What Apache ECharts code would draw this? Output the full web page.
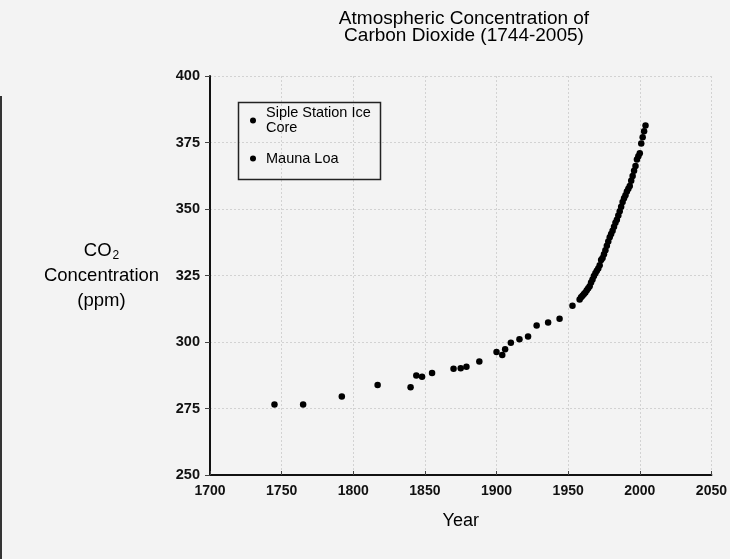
<!DOCTYPE html>
<html>
<head>
<meta charset="utf-8">
<script src="https://cdn.jsdelivr.net/npm/echarts@6/dist/echarts.min.js"></script>
<style>
html,body{margin:0;padding:0;background:#f3f3f3;}
#chart{width:730px;height:559px;}
</style>
</head>
<body>
<div id="chart"></div>
<script>
// ---- data ----
var titleLines = ['Atmospheric Concentration of', 'Carbon Dioxide (1744-2005)'];
var xTicks = [1700, 1750, 1800, 1850, 1900, 1950, 2000, 2050];
var yTicks = [250, 275, 300, 325, 350, 375, 400];
var seriesNames = ['Siple Station Ice\nCore', 'Mauna Loa'];

var sipleYears = [1745, 1765, 1792, 1817, 1840, 1844, 1848, 1855, 1870, 1875, 1879, 1888, 1900, 1904, 1906, 1910, 1916, 1922, 1928, 1936, 1944, 1953];
var sipleCO2   = [276.5, 276.5, 279.5, 283.8, 283.0, 287.4, 286.9, 288.3, 289.9, 290.1, 290.7, 292.7, 296.2, 295.1, 297.3, 299.7, 301.0, 302.1, 306.2, 307.3, 308.7, 313.6];

var maunaYears = [1958, 1959, 1960, 1961, 1962, 1963, 1964, 1965, 1966, 1967, 1968, 1969, 1970, 1971, 1972, 1973, 1974, 1975, 1976, 1977, 1978, 1979, 1980, 1981,
                  1982, 1983, 1984, 1985, 1986, 1987, 1988, 1989, 1990, 1991, 1992, 1993, 1994, 1995, 1996, 1997, 1998, 1999, 2000, 2001, 2002, 2003, 2004];
var maunaCO2   = [316.0, 316.8, 317.4, 318.0, 318.6, 319.5, 320.2, 321.0, 322.4, 323.5, 324.8, 325.8, 326.8, 327.6, 328.9, 330.8, 331.6, 333.0, 334.5, 336.2, 337.8, 339.4, 340.6, 341.8,
                  343.3, 344.8, 346.0, 347.6, 349.2, 350.8, 352.6, 354.0, 355.2, 356.6, 357.6, 358.6, 360.6, 362.4, 364.4, 366.2, 368.6, 369.8, 371.0, 374.6, 377.0, 379.2, 381.4];

function pairs(xs, ys) { return xs.map(function (x, i) { return [x, ys[i]]; }); }

var FONT = '"Liberation Sans", Arial, Helvetica, sans-serif';
var chart = echarts.init(document.getElementById('chart'), null, {renderer: 'canvas'});

var option = {
  backgroundColor: '#f3f3f3',
  animation: false,
  textStyle: {fontFamily: FONT, color: '#111'},
  title: {
    text: titleLines.join('\n'),
    left: 459,
    top: 5,
    textAlign: 'center',
    textStyle: {fontFamily: FONT, fontSize: 19, fontWeight: 'normal', color: '#000', lineHeight: 17.5}
  },
  grid: {left: 210, right: 16, top: 76, bottom: 84, containLabel: false},
  legend: {
    orient: 'vertical',
    left: 250,
    top: 98,
    padding: 0,
    itemGap: 8,
    itemWidth: 6,
    itemHeight: 6,
    icon: 'circle',
    textStyle: {fontFamily: FONT, fontSize: 14.5, color: '#000', lineHeight: 15, padding: [0, 0, 0, 5]},
    data: [
      {name: seriesNames[0], textStyle: {padding: [15, 0, 0, 5]}},
      {name: seriesNames[1]}
    ]
  },
  xAxis: {
    type: 'value',
    min: xTicks[0],
    max: xTicks[xTicks.length - 1],
    interval: 50,
    name: 'Year',
    nameLocation: 'middle',
    nameGap: 37,
    nameTextStyle: {fontFamily: FONT, fontSize: 18, color: '#000'},
    axisLine: {show: true, lineStyle: {color: '#111', width: 2}},
    axisTick: {show: true, inside: true, length: 4, lineStyle: {color: '#444'}},
    axisLabel: {margin: 9, fontFamily: FONT, fontSize: 14, fontWeight: 'bold', color: '#111',
      formatter: function (v) { return String(v); }},
    splitLine: {show: true, lineStyle: {color: '#d2d2d2', width: 1, type: [2, 2]}}
  },
  yAxis: {
    type: 'value',
    min: yTicks[0],
    max: yTicks[yTicks.length - 1],
    interval: 25,
    name: '{co|CO}{sub|2}\n{b|Concentration}\n{b|(ppm)}',
    nameLocation: 'middle',
    nameRotate: 0,
    nameGap: 108.5,
    nameTextStyle: {
      align: 'center',
      fontFamily: FONT, fontSize: 18.5, color: '#000',
      rich: {
        co: {fontFamily: FONT, fontSize: 18.5, color: '#000', lineHeight: 25},
        sub: {fontFamily: FONT, fontSize: 12, color: '#000', lineHeight: 25, padding: [11, 0, 0, 1]},
        b: {fontFamily: FONT, fontSize: 18.5, color: '#000', lineHeight: 25}
      }
    },
    axisLine: {show: true, lineStyle: {color: '#111', width: 2}},
    axisTick: {show: true, inside: false, length: 5, lineStyle: {color: '#444'}},
    axisLabel: {margin: 10, fontFamily: FONT, fontSize: 14.5, fontWeight: 'bold', color: '#111'},
    splitLine: {show: true, lineStyle: {color: '#d2d2d2', width: 1, type: [2, 2]}}
  },
  graphic: [
    {type: 'rect', left: 236, top: 100, shape: {width: 142, height: 77},
     style: {fill: null, stroke: '#222', lineWidth: 1.5}, silent: true, z: 10},
    {type: 'rect', left: 0, top: 96, shape: {width: 2, height: 463},
     style: {fill: '#333'}, silent: true}
  ],
  series: [
    {name: seriesNames[0], type: 'scatter', data: pairs(sipleYears, sipleCO2),
     symbol: 'circle', symbolSize: 6.5, itemStyle: {color: '#000', opacity: 1}},
    {name: seriesNames[1], type: 'scatter', data: pairs(maunaYears, maunaCO2),
     symbol: 'circle', symbolSize: 6.5, itemStyle: {color: '#000', opacity: 1}}
  ]
};
chart.setOption(option);
</script>
</body>
</html>
